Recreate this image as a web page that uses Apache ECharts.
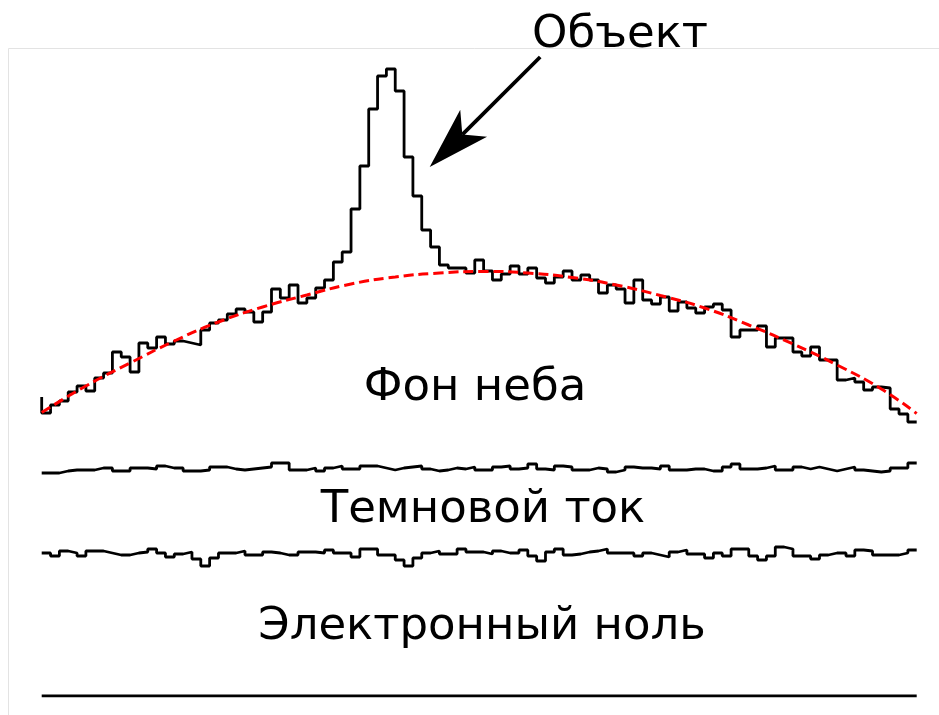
<!DOCTYPE html>
<html>
<head>
<meta charset="utf-8">
<script src="https://cdn.jsdelivr.net/npm/echarts@6/dist/echarts.min.js"></script>
<style>
html,body{margin:0;padding:0;background:#fff;}
#chart{width:939px;height:715px;}
</style>
</head>
<body>
<div id="chart"></div>
<script>
// Step lines: point 0 is the start level, point i (1..99) is the level of bin i
const skyLevels = [299,
 283,291,295,304,310,305,318,323,344,339,324,353,348,359,352,355,353,351,366,373,
 376,382,387,384,374,384,407,398,411,393,398,408,416,434,444,487,530,587,620,627,
 605,539,500,466,449,431,428,428,423,436,425,416,422,430,422,428,418,413,419,425,
 416,421,416,403,411,407,393,416,396,392,399,385,394,388,383,389,392,386,359,366,
 366,370,349,358,358,344,340,349,336,336,316,318,314,306,309,308,287,282,274];
const fitX = [0,5,10,15,20,25,30,35,40,45,50,55,60,65,70,75,80,85,90,95,99];
const fitValues = [283.5,310,333,355,374,389,401,412,419,423,424.5,423,418.5,411,400.5,388,371,352,331,307,282.5];
const darkLevels = [223,
 223,223,225,226,226,226,228,228,225,225,228,228,227,230,228,228,225,225,226,229,
 229,227,226,227,228,229,233,233,226,226,228,225,228,230,227,227,230,230,228,226,
 228,229,230,227,225,226,228,227,229,226,226,229,230,227,228,232,227,226,230,229,
 226,226,228,227,224,226,229,228,228,227,230,226,226,227,227,225,225,229,232,227,
 227,228,230,226,226,229,227,229,227,225,227,229,226,225,224,225,228,228,233];
const zeroLevels = [143,
 143,140,145,143,140,145,145,143,141,141,143,144,147,143,139,142,144,137,130,138,
 143,143,145,141,141,144,143,141,141,144,144,143,146,143,143,139,147,147,141,141,
 136,130,138,143,145,142,142,147,144,144,142,145,143,143,146,140,135,144,147,141,
 142,144,145,147,143,143,143,140,143,141,139,144,146,142,142,138,143,140,147,147,
 140,136,140,149,147,140,140,137,141,143,143,140,146,145,141,141,141,143,146];
const baseX = [0, 99];
const baseValues = [0, 0];
const arrowFrom = [56.4, 639];
const arrowTip = [43.9, 529];
const labels = ['Объект', 'Фон неба', 'Темновой ток', 'Электронный ноль'];

const pairs = (xs, ys) => ys.map((v, i) => [xs ? xs[i] : i, v]);
const chart = echarts.init(document.getElementById('chart'), null, {renderer: 'canvas'});
const font = '45px "DejaVu Sans", sans-serif';
const stepStyle = {color: '#000', width: 2.8};
const textEl = (t, x, y) => ({type: 'text', x: x, y: y, style: {text: t, font: font, fill: '#000', align: 'center', verticalAlign: 'middle'}});
chart.setOption({
  animation: false,
  backgroundColor: '#fff',
  grid: {left: 41.7, right: 22.3, top: 16, bottom: 19},
  xAxis: {type: 'value', min: 0, max: 99, show: false},
  yAxis: {type: 'value', min: 0, max: 680, show: false},
  series: [
    {type: 'line', step: 'start', data: pairs(null, skyLevels), symbol: 'none', lineStyle: stepStyle, z: 2},
    {type: 'line', smooth: 0.5, data: pairs(fitX, fitValues), symbol: 'none', z: 3,
     lineStyle: {color: '#ff0000', width: 3, type: [10, 5]}},
    {type: 'line', step: 'start', data: pairs(null, darkLevels), symbol: 'none', lineStyle: stepStyle, z: 2},
    {type: 'line', step: 'start', data: pairs(null, zeroLevels), symbol: 'none', lineStyle: stepStyle, z: 2},
    {type: 'line', data: pairs(baseX, baseValues), symbol: 'none', lineStyle: {color: '#000', width: 3}, z: 2}
  ]
});

// Arrow annotation located through the grid's coordinate system
const p0 = chart.convertToPixel({gridIndex: 0}, arrowFrom);
const pt = chart.convertToPixel({gridIndex: 0}, arrowTip);
const dx = p0[0] - pt[0], dy = p0[1] - pt[1];
const len = Math.hypot(dx, dy);
const ux = dx / len, uy = dy / len;      // unit vector from tip back toward the tail
const nx = -uy, ny = ux;                  // normal
const headLen = 62, halfW = 19, notch = 46;
const c1 = [pt[0] + ux * headLen + nx * halfW, pt[1] + uy * headLen + ny * halfW];
const c2 = [pt[0] + ux * headLen - nx * halfW, pt[1] + uy * headLen - ny * halfW];
const nt = [pt[0] + ux * notch, pt[1] + uy * notch];

chart.setOption({
  graphic: [
    {type: 'rect', shape: {x: 8.5, y: 48.5, width: 940, height: 680}, style: {fill: 'none', stroke: '#e3e3e3', lineWidth: 1}, z: -1},
    textEl(labels[0], 620, 35),
    textEl(labels[1], 475, 388),
    textEl(labels[2], 483, 510),
    textEl(labels[3], 482, 627),
    {type: 'line', shape: {x1: p0[0], y1: p0[1], x2: nt[0], y2: nt[1]}, style: {stroke: '#000', lineWidth: 3.8}},
    {type: 'polygon', shape: {points: [pt, c1, nt, c2]}, style: {fill: '#000'}}
  ]
});
</script>
</body>
</html>
